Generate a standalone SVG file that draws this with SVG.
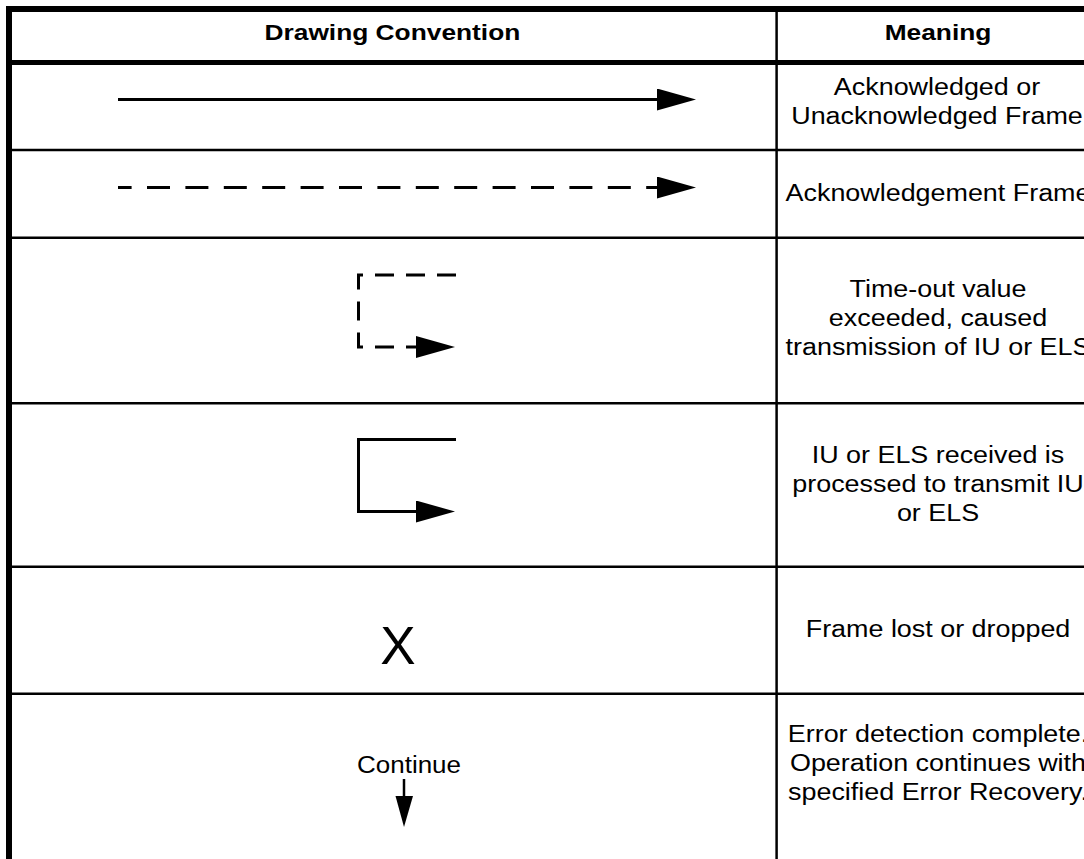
<svg xmlns="http://www.w3.org/2000/svg" width="1084" height="859" viewBox="0 0 1084 859">
  <style>
    .t { font-family: "Liberation Sans", Arial, sans-serif; font-size: 23px; fill: #000; text-anchor: middle; }
    .h { font-family: "Liberation Sans", Arial, sans-serif; font-size: 22.5px; font-weight: bold; fill: #000; text-anchor: middle; }
    .x { font-family: "Liberation Sans", Arial, sans-serif; font-size: 53px; fill: #000; text-anchor: middle; }
    .rule { stroke: #000; stroke-width: 2.5; fill: none; }
    .frame { stroke: #000; fill: none; }
    .ln { stroke: #000; stroke-width: 3; fill: none; }
    .dash-long { stroke-dasharray: 23 15.4; stroke-dashoffset: 9.4; }
    .dash-short { stroke-dasharray: 19 12; }
  </style>
  <defs>
    <marker id="head" markerUnits="userSpaceOnUse" markerWidth="40" markerHeight="24" refX="0" refY="11" orient="auto" viewBox="0 0 40 24">
      <path d="M0,0 L39,11 L0,22 Z" fill="#000"/>
    </marker>
  </defs>

  <rect width="1084" height="859" fill="#fff"/>

  <!-- table frame and grid -->
  <g id="grid">
    <line class="frame" x1="6" y1="9" x2="1084" y2="9" stroke-width="6"/>
    <line class="frame" x1="9" y1="6" x2="9" y2="859" stroke-width="6"/>
    <line class="frame" x1="12" y1="62.5" x2="1084" y2="62.5" stroke-width="5"/>
    <line class="rule" x1="776.6" y1="12" x2="776.6" y2="859"/>
    <line class="rule" x1="12" y1="150" x2="1084" y2="150"/>
    <line class="rule" x1="12" y1="237.7" x2="1084" y2="237.7"/>
    <line class="rule" x1="12" y1="403.3" x2="1084" y2="403.3"/>
    <line class="rule" x1="12" y1="566.7" x2="1084" y2="566.7"/>
    <line class="rule" x1="12" y1="693.7" x2="1084" y2="693.7"/>
  </g>

  <!-- column headings -->
  <g id="header">
    <text class="h" transform="translate(392.4 40) scale(1.17 1)">Drawing Convention</text>
    <text class="h" transform="translate(938 40) scale(1.17 1)">Meaning</text>
  </g>

  <!-- row 1: solid frame arrow -->
  <g id="row-frame">
    <line class="ln" x1="118" y1="99.5" x2="657" y2="99.5" marker-end="url(#head)"/>
    <text class="t" transform="translate(937 95) scale(1.17 1)">Acknowledged or</text>
    <text class="t" transform="translate(937 124) scale(1.17 1)">Unacknowledged Frame</text>
  </g>

  <!-- row 2: dashed acknowledgement arrow -->
  <g id="row-ack">
    <line class="ln dash-long" x1="118" y1="187.5" x2="657" y2="187.5" marker-end="url(#head)"/>
    <text class="t" transform="translate(938 201) scale(1.17 1)">Acknowledgement Frame</text>
  </g>

  <!-- row 3: dashed time-out loop -->
  <g id="row-timeout">
    <path class="ln dash-short" d="M456,275 H358.5 V347 H416" marker-end="url(#head)"/>
    <text class="t" transform="translate(938 297) scale(1.17 1)">Time-out value</text>
    <text class="t" transform="translate(938 326) scale(1.17 1)">exceeded, caused</text>
    <text class="t" transform="translate(938 355) scale(1.17 1)">transmission of IU or ELS</text>
  </g>

  <!-- row 4: solid processing loop -->
  <g id="row-process">
    <path class="ln" d="M456,439.5 H358.5 V511.5 H416" marker-end="url(#head)"/>
    <text class="t" transform="translate(938 463) scale(1.17 1)">IU or ELS received is</text>
    <text class="t" transform="translate(938 492) scale(1.17 1)">processed to transmit IU</text>
    <text class="t" transform="translate(938 521) scale(1.17 1)">or ELS</text>
  </g>

  <!-- row 5: lost frame -->
  <g id="row-lost">
    <text class="x" x="398" y="664">X</text>
    <text class="t" transform="translate(938 637) scale(1.17 1)">Frame lost or dropped</text>
  </g>

  <!-- row 6: continue -->
  <g id="row-continue">
    <text class="t" transform="translate(409 773) scale(1.13 1)">Continue</text>
    <line x1="404" y1="779" x2="404" y2="798" stroke="#000" stroke-width="2.5"/>
    <polygon points="395.5,796 413,796 404,827" fill="#000"/>
    <text class="t" transform="translate(938 742) scale(1.17 1)">Error detection complete.</text>
    <text class="t" transform="translate(938 771) scale(1.17 1)">Operation continues with</text>
    <text class="t" transform="translate(938 800) scale(1.17 1)">specified Error Recovery.</text>
  </g>
</svg>
